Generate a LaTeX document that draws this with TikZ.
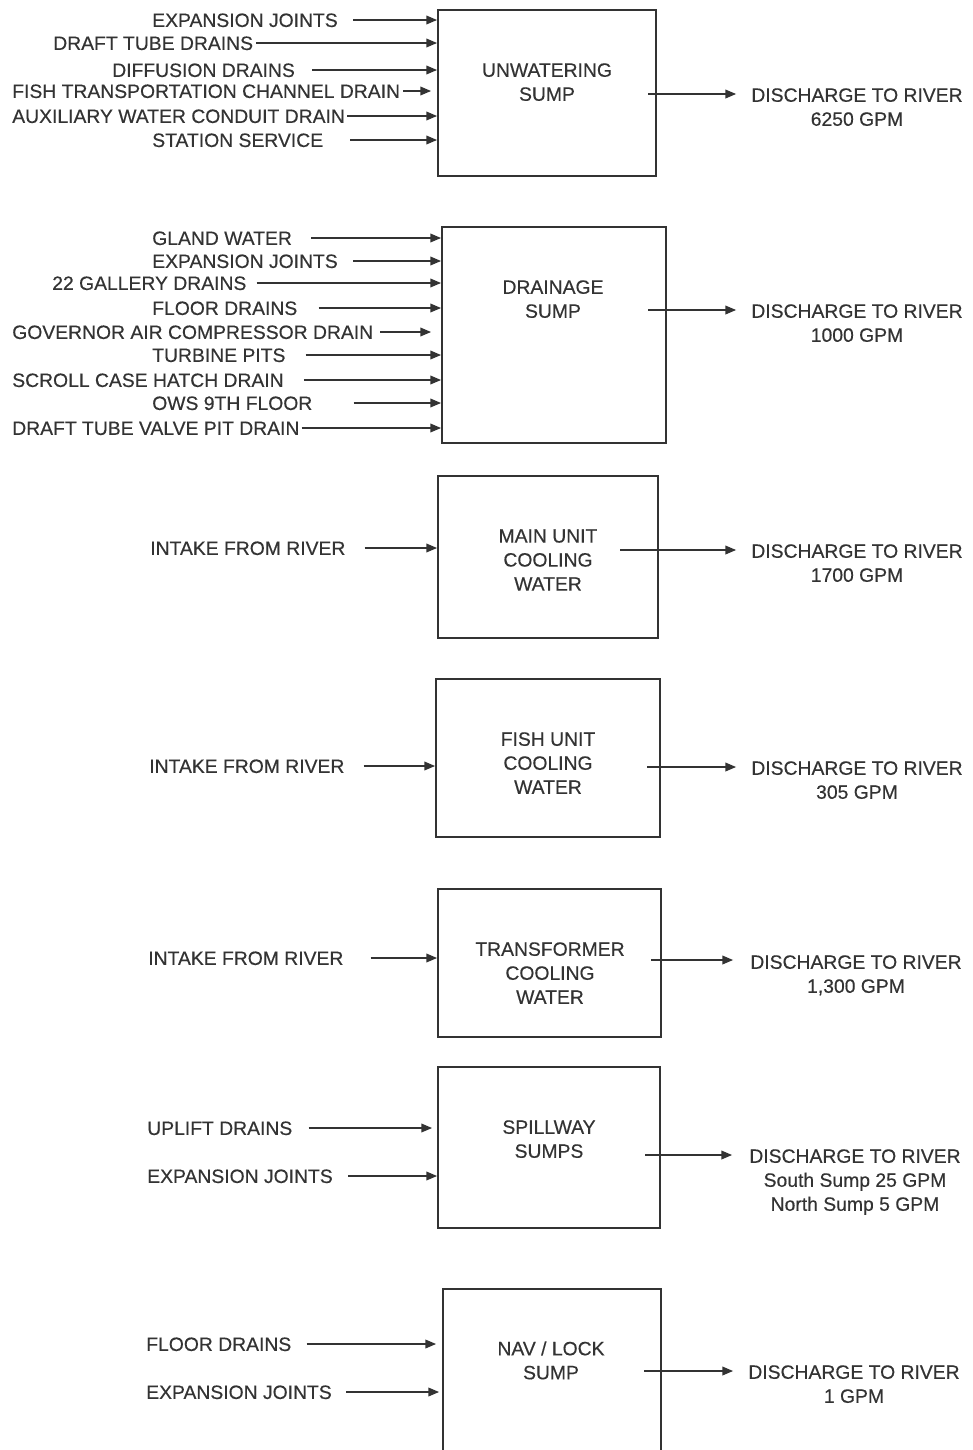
\documentclass[tikz,border=0pt]{standalone}
\usepackage{fontspec}
\setmainfont{Liberation Sans}[FakeBold=0.35]
\usetikzlibrary{arrows.meta,calc}
\newlength\pxu
\setlength\pxu{0.75pt}
\newcommand{\fs}{\fontsize{14.5}{18}\selectfont}
\tikzset{
  box/.style={draw=black!80, line width=1.4pt, inner sep=0pt},
  intxt/.style={anchor=west, inner sep=0pt, text height=10.4pt, text depth=0pt, font=\fs, text=black!80},
  blk/.style={anchor=north, align=center, inner sep=0pt, font=\fs, text=black!80},
  arr/.style={draw=black!80, line width=1pt, -{Triangle[length=8pt,width=6.5pt]}}
}
\begin{document}
\begin{tikzpicture}[x=0.75pt,y=-0.75pt]
\useasboundingbox[fill=white] (0,0) rectangle (972,1450);

% ---------- 1 Unwatering sump
\node[box, minimum width=218\pxu, minimum height=166\pxu] (b1) at (547,93) {};
\node[blk] (l1) at (547,63) {UNWATERING\\SUMP};
\node[intxt] (t11) at (152,20) {EXPANSION JOINTS};
\node[intxt] (t12) at (53,43) {DRAFT TUBE DRAINS};
\node[intxt] (t13) at (112,70) {DIFFUSION DRAINS};
\node[intxt] (t14) at (12,91) {FISH TRANSPORTATION CHANNEL DRAIN};
\node[intxt] (t15) at (12,116) {AUXILIARY WATER CONDUIT DRAIN};
\node[intxt] (t16) at (152,140) {STATION SERVICE};
\draw[arr] ($(t11.east)+(15,0)$) -- (t11.east -| b1.west);
\draw[arr] ($(t12.east)+(3,0)$) -- (t12.east -| b1.west);
\draw[arr] ($(t13.east)+(17,0)$) -- (t13.east -| b1.west);
\draw[arr] ($(t14.east)+(3,0)$) -- ($(t14.east -| b1.west)+(-6,0)$);
\draw[arr] ($(t15.east)+(2,0)$) -- (t15.east -| b1.west);
\draw[arr] ($(t16.east)+(27,0)$) -- (t16.east -| b1.west);
\node[blk] (o1) at (857,88) {DISCHARGE TO RIVER\\6250 GPM};
\coordinate (s1) at (648,94);
\draw[arr] (s1) -- ($(s1 -| o1.west)+(-15,0)$);

% ---------- 2 Drainage sump
\node[box, minimum width=224\pxu, minimum height=216\pxu] (b2) at (554,335) {};
\node[blk] (l2) at (553,280) {DRAINAGE\\SUMP};
\node[intxt] (t21) at (152,238) {GLAND WATER};
\node[intxt] (t22) at (152,261) {EXPANSION JOINTS};
\node[intxt] (t23) at (52,283) {22 GALLERY DRAINS};
\node[intxt] (t24) at (152,308) {FLOOR DRAINS};
\node[intxt] (t25) at (12,332) {GOVERNOR AIR COMPRESSOR DRAIN};
\node[intxt] (t26) at (152,355) {TURBINE PITS};
\node[intxt] (t27) at (12,380) {SCROLL CASE HATCH DRAIN};
\node[intxt] (t28) at (152,403) {OWS 9TH FLOOR};
\node[intxt] (t29) at (12,428) {DRAFT TUBE VALVE PIT DRAIN};
\draw[arr] ($(t21.east)+(19,0)$) -- (t21.east -| b2.west);
\draw[arr] ($(t22.east)+(15,0)$) -- (t22.east -| b2.west);
\draw[arr] ($(t23.east)+(10,0)$) -- (t23.east -| b2.west);
\draw[arr] ($(t24.east)+(21,0)$) -- (t24.east -| b2.west);
\draw[arr] ($(t25.east)+(7,0)$) -- ($(t25.east -| b2.west)+(-10,0)$);
\draw[arr] ($(t26.east)+(20,0)$) -- (t26.east -| b2.west);
\draw[arr] ($(t27.east)+(20,0)$) -- (t27.east -| b2.west);
\draw[arr] ($(t28.east)+(41,0)$) -- (t28.east -| b2.west);
\draw[arr] ($(t29.east)+(2,0)$) -- (t29.east -| b2.west);
\node[blk] (o2) at (857,304) {DISCHARGE TO RIVER\\1000 GPM};
\coordinate (s2) at (648,310);
\draw[arr] (s2) -- ($(s2 -| o2.west)+(-15,0)$);

% ---------- 3 Main unit cooling water
\node[box, minimum width=220\pxu, minimum height=162\pxu] (b3) at (548,557) {};
\node[blk] (l3) at (548,529) {MAIN UNIT\\COOLING\\WATER};
\node[intxt] (t31) at (150,548) {INTAKE FROM RIVER};
\draw[arr] ($(t31.east)+(19,0)$) -- (t31.east -| b3.west);
\node[blk] (o3) at (857,544) {DISCHARGE TO RIVER\\1700 GPM};
\coordinate (s3) at (620,550);
\draw[arr] (s3) -- ($(s3 -| o3.west)+(-15,0)$);

% ---------- 4 Fish unit cooling water
\node[box, minimum width=224\pxu, minimum height=158\pxu] (b4) at (548,758) {};
\node[blk] (l4) at (548,732) {FISH UNIT\\COOLING\\WATER};
\node[intxt] (t41) at (149,766) {INTAKE FROM RIVER};
\draw[arr] ($(t41.east)+(19,0)$) -- (t41.east -| b4.west);
\node[blk] (o4) at (857,761) {DISCHARGE TO RIVER\\305 GPM};
\coordinate (s4) at (647,767);
\draw[arr] (s4) -- ($(s4 -| o4.west)+(-15,0)$);

% ---------- 5 Transformer cooling water
\node[box, minimum width=223\pxu, minimum height=148\pxu] (b5) at (549.5,963) {};
\node[blk] (l5) at (550,942) {TRANSFORMER\\COOLING\\WATER};
\node[intxt] (t51) at (148,958) {INTAKE FROM RIVER};
\draw[arr] ($(t51.east)+(27,0)$) -- (t51.east -| b5.west);
\node[blk] (o5) at (856,955) {DISCHARGE TO RIVER\\1,300 GPM};
\coordinate (s5) at (651,960);
\draw[arr] (s5) -- ($(s5 -| o5.west)+(-17,0)$);

% ---------- 6 Spillway sumps
\node[box, minimum width=222\pxu, minimum height=161\pxu] (b6) at (549,1147.5) {};
\node[blk] (l6) at (549,1120) {SPILLWAY\\SUMPS};
\node[intxt] (t61) at (147,1128) {UPLIFT DRAINS};
\node[intxt] (t62) at (147,1176) {EXPANSION JOINTS};
\draw[arr] ($(t61.east)+(16,0)$) -- ($(t61.east -| b6.west)+(-5,0)$);
\draw[arr] ($(t62.east)+(15,0)$) -- (t62.east -| b6.west);
\node[blk] (o6) at (855,1149) {DISCHARGE TO RIVER\\South Sump 25 GPM\\North Sump 5 GPM};
\coordinate (s6) at (645,1155);
\draw[arr] (s6) -- ($(s6 -| o6.west)+(-17,0)$);

% ---------- 7 Nav / lock sump
\node[box, minimum width=218\pxu, minimum height=172\pxu] (b7) at (552,1375) {};
\node[blk] (l7) at (551,1341) {NAV / LOCK\\SUMP};
\node[intxt] (t71) at (146,1344) {FLOOR DRAINS};
\node[intxt] (t72) at (146,1392) {EXPANSION JOINTS};
\draw[arr] ($(t71.east)+(15,0)$) -- ($(t71.east -| b7.west)+(-6,0)$);
\draw[arr] ($(t72.east)+(14,0)$) -- ($(t72.east -| b7.west)+(-3,0)$);
\node[blk] (o7) at (854,1365) {DISCHARGE TO RIVER\\1 GPM};
\coordinate (s7) at (644,1371);
\draw[arr] (s7) -- ($(s7 -| o7.west)+(-15,0)$);
\end{tikzpicture}
\end{document}
